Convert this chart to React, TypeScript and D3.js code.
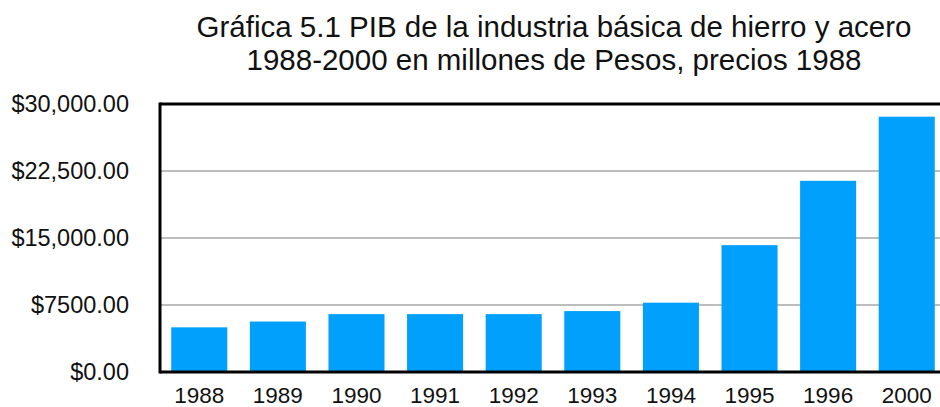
import * as d3 from "d3";
import { useEffect, useRef } from "react";

const years = ["1988", "1989", "1990", "1991", "1992", "1993", "1994", "1995", "1996", "2000"];
const pib = [5000, 5650, 6480, 6480, 6480, 6820, 7760, 14200, 21400, 28580];
const yTicks = [0, 7500, 15000, 22500, 30000];
const titleLines = [
  "Gráfica 5.1 PIB de la industria básica de hierro y acero",
  "1988-2000 en millones de Pesos, precios 1988",
];

export default function App() {
  const svgRef = useRef<SVGSVGElement | null>(null);

  useEffect(() => {
    if (!svgRef.current) return;
    const svg = d3.select(svgRef.current);
    svg.selectAll("*").remove();

    const width = 940;
    const height = 407;
    const margin = { top: 104, right: -6, bottom: 35, left: 160 };
    const font = "'Liberation Sans', Arial, Helvetica, sans-serif";

    const x = d3
      .scaleBand()
      .domain(years)
      .range([margin.left, width - margin.right])
      .paddingInner(0.287)
      .paddingOuter(0.143);

    const y = d3
      .scaleLinear()
      .domain([0, 30000])
      .range([height - margin.bottom, margin.top]);

    const fmt = (v: number) =>
      v >= 10000 ? d3.format("$,.2f")(v) : d3.format("$.2f")(v);

    // grid lines
    svg
      .append("g")
      .selectAll("line")
      .data(yTicks.filter((d) => d > 0 && d < 30000))
      .join("line")
      .attr("x1", margin.left)
      .attr("x2", width)
      .attr("y1", (d) => y(d))
      .attr("y2", (d) => y(d))
      .attr("stroke", "#bdbdbd")
      .attr("stroke-width", 2);

    // bars
    svg
      .append("g")
      .selectAll("rect")
      .data(pib)
      .join("rect")
      .attr("x", (_, i) => x(years[i])!)
      .attr("y", (d) => y(d))
      .attr("width", x.bandwidth())
      .attr("height", (d) => y(0) - y(d))
      .attr("fill", "#00a0fc");

    // frame (left, top, bottom)
    const frame = svg.append("g").attr("stroke", "#000").attr("stroke-width", 3);
    frame
      .append("line")
      .attr("x1", margin.left)
      .attr("x2", width)
      .attr("y1", y(30000))
      .attr("y2", y(30000));
    frame
      .append("line")
      .attr("x1", margin.left)
      .attr("x2", width)
      .attr("y1", y(0))
      .attr("y2", y(0));
    frame
      .append("line")
      .attr("x1", margin.left)
      .attr("x2", margin.left)
      .attr("y1", y(30000) - 1.5)
      .attr("y2", y(0) + 1.5);

    // y axis labels
    svg
      .append("g")
      .selectAll("text")
      .data(yTicks)
      .join("text")
      .attr("x", 129)
      .attr("y", (d) => y(d))
      .attr("dy", "0.35em")
      .attr("text-anchor", "end")
      .attr("fill", "#111")
      .style("font-family", font)
      .style("font-size", "23.5px")
      .text((d) => fmt(d));

    // x axis labels
    svg
      .append("g")
      .selectAll("text")
      .data(years)
      .join("text")
      .attr("x", (d) => x(d)! + x.bandwidth() / 2)
      .attr("y", 403)
      .attr("text-anchor", "middle")
      .attr("fill", "#111")
      .style("font-family", font)
      .style("font-size", "22.5px")
      .text((d) => d);

    // title
    svg
      .append("g")
      .selectAll("text")
      .data(titleLines)
      .join("text")
      .attr("x", 554)
      .attr("y", (_, i) => 37 + i * 33)
      .attr("text-anchor", "middle")
      .attr("fill", "#111")
      .style("font-family", font)
      .style("font-size", "29.5px")
      .text((d) => d);
  }, []);

  return (
    <svg
      ref={svgRef}
      width={940}
      height={407}
      style={{ position: "absolute", left: 0, top: 0, background: "#fff" }}
    />
  );
}
